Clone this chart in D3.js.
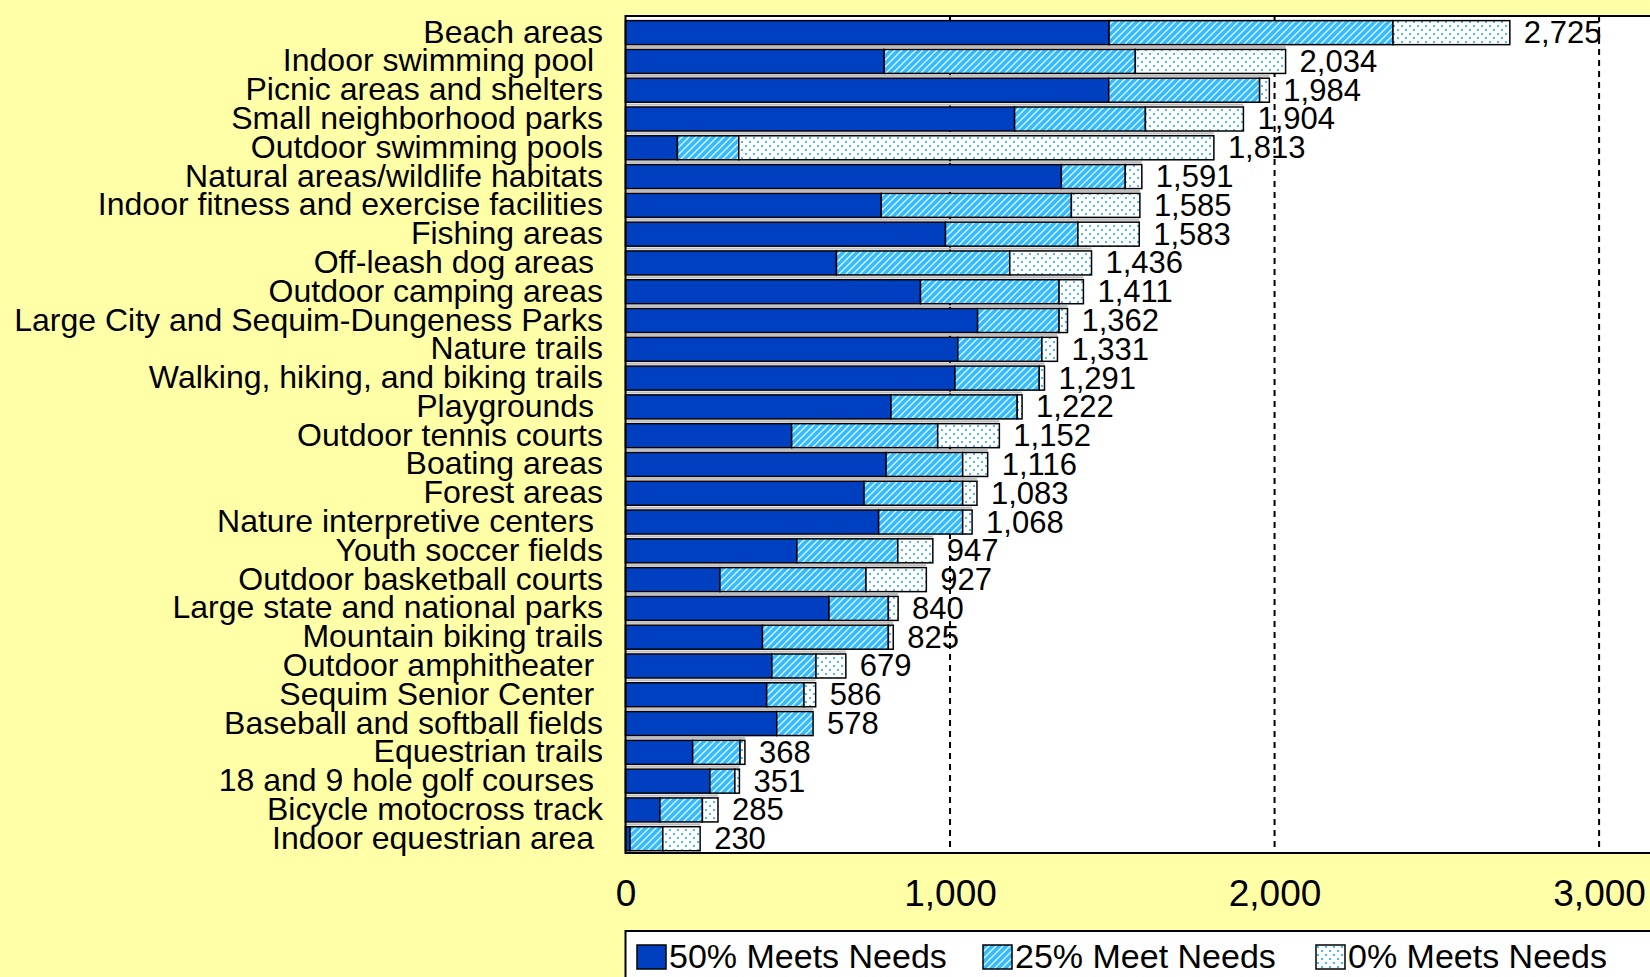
<!DOCTYPE html>
<html>
<head>
<meta charset="utf-8">
<script src="https://cdn.jsdelivr.net/npm/d3@7"></script>
<style>
  html, body { margin: 0; padding: 0; background: #ffffa8; }
  svg { display: block; font-family: "Liberation Sans", Arial, sans-serif; }
</style>
</head>
<body>
<svg id="chart"></svg>
<script>
// facility names, top to bottom
const categories = [
  "Beach areas", "Indoor swimming pool ", "Picnic areas and shelters", "Small neighborhood parks",
  "Outdoor swimming pools", "Natural areas/wildlife habitats", "Indoor fitness and exercise facilities",
  "Fishing areas", "Off-leash dog areas ", "Outdoor camping areas", "Large City and Sequim-Dungeness Parks",
  "Nature trails", "Walking, hiking, and biking trails", "Playgrounds ", "Outdoor tennis courts",
  "Boating areas", "Forest areas", "Nature interpretive centers ", "Youth soccer fields",
  "Outdoor basketball courts", "Large state and national parks", "Mountain biking trails",
  "Outdoor amphitheater ", "Sequim Senior Center ", "Baseball and softball fields", "Equestrian trails",
  "18 and 9 hole golf courses ", "Bicycle motocross track", "Indoor equestrian area "
];
const meets50 = [1490, 797, 1489, 1199, 160, 1343, 788, 986, 650, 909, 1085, 1024, 1015, 818, 512,
  803, 735, 780, 528, 291, 627, 422, 451, 435, 466, 207, 260, 106, 14];
const meets25 = [875, 774, 465, 403, 189, 197, 586, 408, 534, 427, 251, 259, 260, 389, 450,
  236, 304, 259, 311, 450, 183, 388, 136, 115, 112, 146, 77, 131, 101];
const meets0 = [360, 463, 30, 302, 1464, 51, 211, 189, 252, 75, 26, 48, 16, 15, 190,
  77, 44, 29, 108, 186, 30, 15, 92, 36, 0, 15, 14, 48, 115];
const totals = [2725, 2034, 1984, 1904, 1813, 1591, 1585, 1583, 1436, 1411, 1362, 1331, 1291, 1222, 1152,
  1116, 1083, 1068, 947, 927, 840, 825, 679, 586, 578, 368, 351, 285, 230];
const xTicks = [0, 1000, 2000, 3000];
const seriesKeys = ["m50", "m25", "m0"];
const seriesNames = ["50% Meets Needs", "25% Meet Needs", "0% Meets Needs"];

const W = 1650, H = 977;
const plot = { left: 625.5, top: 16, bottom: 853, right: 1664 };

const rows = categories.map((c, i) => ({ cat: c, m50: meets50[i], m25: meets25[i], m0: meets0[i], total: totals[i] }));

const svg = d3.select("#chart").attr("width", W).attr("height", H);

// patterns
const defs = svg.append("defs");
const hatch = defs.append("pattern").attr("id", "hatch")
  .attr("patternUnits", "userSpaceOnUse").attr("width", 7).attr("height", 7);
hatch.append("rect").attr("width", 7).attr("height", 7).attr("fill", "#33bbff");
hatch.append("path").attr("d", "M-1,8 L8,-1 M-1,1 L1,-1 M6,8 L8,6")
  .attr("stroke", "#e8f8ff").attr("stroke-width", 1.3);

const dots = defs.append("pattern").attr("id", "dots")
  .attr("patternUnits", "userSpaceOnUse").attr("width", 8).attr("height", 8);
dots.append("rect").attr("width", 8).attr("height", 8).attr("fill", "#ffffff");
dots.append("rect").attr("x", 1).attr("y", 1).attr("width", 2).attr("height", 2).attr("fill", "#44bbff");
dots.append("rect").attr("x", 5).attr("y", 5).attr("width", 2).attr("height", 2).attr("fill", "#44bbff");

const fills = { m50: "#0040c0", m25: "url(#hatch)", m0: "url(#dots)" };

const x = d3.scaleLinear().domain([0, 3200]).range([plot.left, plot.right]);
const y = d3.scaleBand().domain(categories).range([plot.top, plot.bottom])
  .paddingInner(0.166).paddingOuter(0.12).align(0.67);

// plot area
svg.append("rect")
  .attr("x", plot.left).attr("y", plot.top)
  .attr("width", plot.right - plot.left).attr("height", plot.bottom - plot.top)
  .attr("fill", "#ffffff");

// dashed gridlines
svg.append("g").selectAll("line")
  .data(xTicks.filter(d => d > 0))
  .join("line")
  .attr("x1", d => x(d)).attr("x2", d => x(d))
  .attr("y1", plot.top).attr("y2", plot.bottom)
  .attr("stroke", "#000").attr("stroke-width", 2).attr("stroke-dasharray", "6,5");

// grey separators between neighbouring bars
const gap = y.step() - y.bandwidth();
svg.append("g").selectAll("rect")
  .data(rows.slice(1))
  .join("rect")
  .attr("x", x(0))
  .attr("y", d => y(d.cat) - gap / 2 - 1)
  .attr("width", (d, i) => x(Math.min(d.total, rows[i].total)) - x(0))
  .attr("height", 2)
  .attr("fill", "#bdbdbd");

// stacked bars
const stacked = d3.stack().keys(seriesKeys)(rows);
svg.append("g").selectAll("g")
  .data(stacked)
  .join("g")
  .attr("fill", d => fills[d.key])
  .selectAll("rect")
  .data(d => d.filter(s => s[1] > s[0]))
  .join("rect")
  .attr("x", d => x(d[0]))
  .attr("y", d => y(d.data.cat))
  .attr("width", d => x(d[1]) - x(d[0]))
  .attr("height", y.bandwidth())
  .attr("stroke", "#000")
  .attr("stroke-width", 1.5);

// value labels
svg.append("g").selectAll("text")
  .data(rows)
  .join("text")
  .attr("x", d => x(d.total) + 14)
  .attr("y", d => y(d.cat) + y.bandwidth() / 2 + 10.5)
  .attr("font-size", 31)
  .attr("fill", "#000")
  .text(d => d3.format(",")(d.total));

// category labels
svg.append("g").selectAll("text")
  .data(rows)
  .join("text")
  .attr("x", 603)
  .attr("y", d => y(d.cat) + y.bandwidth() / 2 + 10)
  .attr("text-anchor", "end")
  .attr("font-size", 32)
  .attr("fill", "#000")
  .style("white-space", "pre")
  .text(d => d.cat);

// plot frame
svg.append("path")
  .attr("d", `M${plot.right},${plot.top} H${plot.left} V${plot.bottom} H${plot.right}`)
  .attr("fill", "none").attr("stroke", "#000").attr("stroke-width", 2);

// x axis labels
const xAxis = d3.axisBottom(x).tickValues(xTicks).tickFormat(d3.format(",")).tickSize(0).tickPadding(0);
const axisG = svg.append("g").attr("transform", `translate(0,${plot.bottom})`).call(xAxis);
axisG.select(".domain").remove();
axisG.selectAll("text")
  .attr("dy", null).attr("y", 53)
  .attr("font-size", 37).attr("fill", "#000")
  .attr("font-family", "'Liberation Sans', Arial, sans-serif");

// legend
const legend = svg.append("g");
legend.append("rect")
  .attr("x", plot.left).attr("y", 931)
  .attr("width", 1100).attr("height", 100)
  .attr("fill", "#fff").attr("stroke", "#000").attr("stroke-width", 2);
const legendX = [637, 983, 1316];
const items = legend.selectAll("g.item")
  .data(seriesKeys)
  .join("g").attr("class", "item")
  .attr("transform", (d, i) => `translate(${legendX[i]},945)`);
items.append("rect")
  .attr("width", 29).attr("height", 24)
  .attr("fill", d => fills[d]).attr("stroke", "#000").attr("stroke-width", 1.5);
items.append("text")
  .attr("x", 32).attr("y", 23)
  .attr("font-size", 34).attr("fill", "#000")
  .text((d, i) => seriesNames[i]);
</script>
</body>
</html>
